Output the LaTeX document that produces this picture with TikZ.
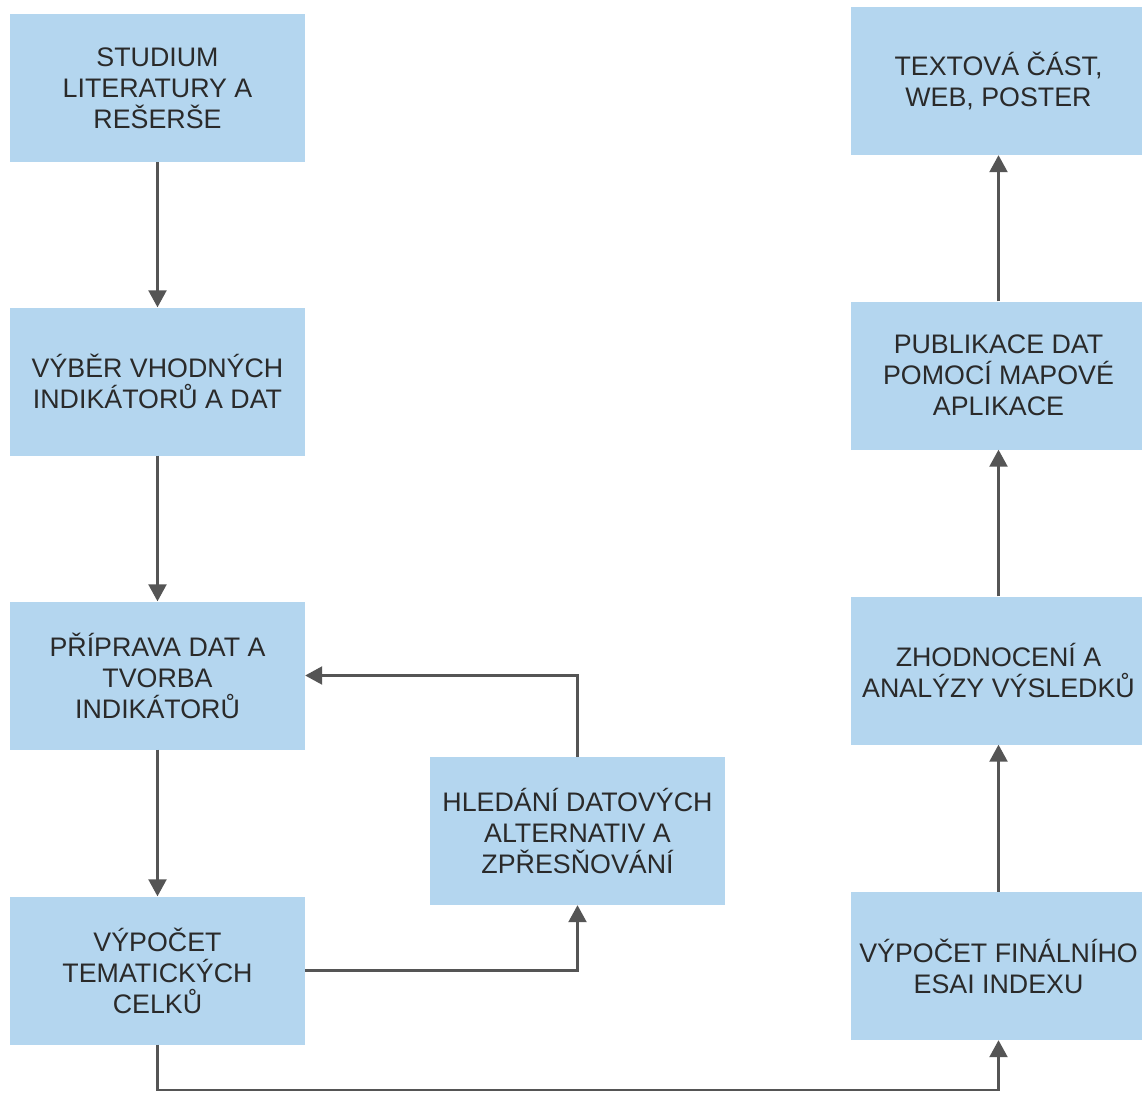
\documentclass[tikz,border=0pt]{standalone}
\usepackage{fontspec}
\setmainfont{Liberation Sans}
\usetikzlibrary{arrows.meta}
\definecolor{boxfill}{HTML}{B4D6EF}
\definecolor{txt}{HTML}{2A2A2A}
\definecolor{lin}{HTML}{555555}
\begin{document}
\begin{tikzpicture}[x=1pt,y=-1pt,
  box/.style={draw=none,fill=boxfill,minimum width=295pt,minimum height=148pt,
    inner sep=0pt,align=center,text=txt,
    font=\fontsize{26.8pt}{31pt}\selectfont},
  conn/.style={draw=lin,line width=2.3pt,-{Triangle[width=18pt,length=17pt]}}]
\fill[white] (0,0) rectangle (1142,1093);
\useasboundingbox (0,0) rectangle (1142,1093);
\clip (0,0) rectangle (1142,1093);
\node[box] (b1) at (157.5,88) {STUDIUM\\LITERATURY A\\REŠERŠE};
\node[box] (b2) at (157.5,381.5) {VÝBĚR VHODNÝCH\\INDIKÁTORŮ A DAT};
\node[box] (b3) at (157.5,675.5) {PŘÍPRAVA DAT A\\TVORBA\\INDIKÁTORŮ};
\node[box] (b4) at (157.5,970.5) {VÝPOČET\\TEMATICKÝCH\\CELKŮ};
\node[box] (m) at (577.5,831) {HLEDÁNÍ DATOVÝCH\\ALTERNATIV A\\ZPŘESŇOVÁNÍ};
\node[box] (t) at (998.5,81) {TEXTOVÁ ČÁST,\\WEB, POSTER};
\node[box] (p) at (998.5,375.5) {PUBLIKACE DAT\\POMOCÍ MAPOVÉ\\APLIKACE};
\node[box] (z) at (998.5,670.5) {ZHODNOCENÍ A\\ANALÝZY VÝSLEDKŮ};
\node[box] (v) at (998.5,966) {VÝPOČET FINÁLNÍHO\\ESAI INDEXU};
\coordinate (bl) at (157.5,1090);
\draw[conn] (b1) -- (b2);
\draw[conn] (b2) -- (b3);
\draw[conn] (b3) -- (b4);
\draw[conn] (b4.east) -| (m.south);
\draw[conn] (m.north) |- (b3.east);
\draw[conn] (b4.south) -- (bl) -| (v.south);
\draw[conn] (v) -- (z);
\draw[conn] (z) -- (p);
\draw[conn] (p) -- (t);
\end{tikzpicture}
\end{document}
